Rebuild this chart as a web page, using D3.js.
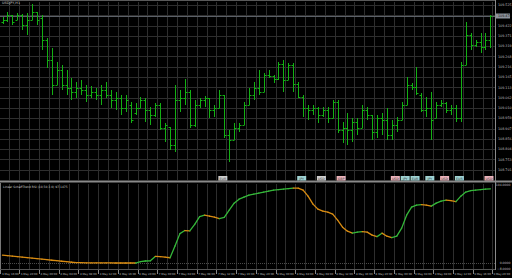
<!DOCTYPE html>
<html>
<head>
<meta charset="utf-8">
<script src="https://cdn.jsdelivr.net/npm/d3@7"></script>
<style>
  html, body { margin: 0; padding: 0; background: #000; }
  svg { display: block; }
  text { font-family: "DejaVu Sans", sans-serif; }
</style>
</head>
<body>
<svg width="512" height="278"></svg>
<script>
var symbolTitle = "USDJPY,H1";
var indicatorTitle = "Linear SchaffTrend RSI (10,50,3.0) 97.1475";

var opens = [109.440,109.450,109.475,109.450,109.475,109.425,109.450,109.490,109.460,109.350,
  109.250,109.125,109.200,109.125,109.110,109.090,109.110,109.100,109.075,109.090,
  109.075,109.100,109.075,109.050,109.060,109.010,109.025,108.985,109.010,109.050,
  109.000,108.975,109.025,108.910,108.915,108.825,109.050,109.060,109.090,108.925,
  109.025,109.050,109.060,109.000,109.010,109.075,108.875,108.850,108.910,108.925,
  109.025,109.075,109.110,109.090,109.175,109.170,109.155,109.230,109.150,109.225,
  109.130,109.065,109.010,109.000,109.010,108.975,109.000,108.960,109.040,108.900,
  108.910,108.900,108.940,108.910,109.000,108.975,108.890,108.960,108.950,108.875,
  108.925,108.950,109.025,109.125,109.115,109.075,109.000,109.010,108.960,109.025,
  109.035,109.000,109.010,108.960,109.225,109.375,109.325,109.340,109.315,109.350];
var highs = [109.465,109.490,109.475,109.485,109.480,109.485,109.530,109.490,109.475,109.360,
  109.310,109.240,109.225,109.200,109.160,109.140,109.150,109.125,109.120,109.110,
  109.125,109.140,109.100,109.090,109.075,109.075,109.040,109.035,109.065,109.060,
  109.015,109.035,109.035,108.935,108.915,109.125,109.100,109.155,109.100,109.050,
  109.060,109.070,109.060,109.025,109.100,109.075,108.900,108.935,108.935,109.040,
  109.110,109.140,109.200,109.185,109.200,109.175,109.240,109.250,109.235,109.235,
  109.140,109.075,109.025,109.025,109.015,109.015,109.015,109.050,109.050,108.940,
  108.985,108.960,108.960,109.025,109.015,108.975,108.975,108.985,109.010,108.950,
  108.965,109.040,109.165,109.135,109.215,109.085,109.065,109.090,109.040,109.050,
  109.040,109.025,109.025,109.240,109.440,109.385,109.350,109.385,109.385,109.475];
var lows = [109.430,109.440,109.425,109.450,109.400,109.375,109.450,109.425,109.300,109.210,
  109.075,109.125,109.100,109.075,109.050,109.060,109.075,109.040,109.060,109.050,
  109.025,109.060,109.010,109.000,108.975,108.990,108.935,108.975,109.010,108.940,
  108.925,108.965,108.900,108.840,108.800,108.790,108.990,109.025,108.910,108.915,
  109.010,109.015,108.960,108.965,109.010,108.860,108.740,108.850,108.890,108.925,
  109.025,109.050,109.075,109.090,109.160,109.135,109.150,109.090,109.150,109.090,
  109.060,108.965,108.950,108.975,108.935,108.965,108.935,108.960,108.885,108.835,
  108.825,108.840,108.875,108.910,108.950,108.850,108.860,108.875,108.850,108.850,
  108.890,108.950,109.025,109.100,109.075,108.990,108.965,108.850,108.960,109.015,
  108.985,108.975,108.940,108.940,109.225,109.300,109.315,109.285,109.300,109.310];
var closes = [109.450,109.475,109.440,109.475,109.425,109.450,109.490,109.450,109.350,109.250,
  109.125,109.200,109.125,109.110,109.090,109.110,109.100,109.075,109.090,109.075,
  109.100,109.075,109.050,109.060,109.010,109.050,108.950,109.010,109.050,109.000,
  108.975,109.025,108.910,108.925,108.825,109.050,109.060,109.090,108.925,109.025,
  109.050,109.060,109.000,109.010,109.075,108.875,108.850,108.910,108.925,109.025,
  109.075,109.110,109.090,109.175,109.170,109.155,109.230,109.150,109.225,109.130,
  109.065,109.010,109.000,109.010,108.975,109.000,108.960,109.040,108.900,108.910,
  108.900,108.940,108.910,109.000,108.975,108.890,108.960,108.950,108.875,108.925,
  108.950,109.025,109.125,109.115,109.085,109.000,109.010,108.950,109.025,109.035,
  109.000,109.010,108.960,109.225,109.375,109.325,109.340,109.315,109.350,109.470];

var stcValues = [10.1,9.5,8.8,8.2,7.5,6.9,6.2,5.6,4.9,4.3,
  3.6,3.0,2.3,1.7,1.0,0.6,0.4,0.3,0.2,0.2,
  0.1,0.1,0.1,0.0,0.0,0.0,0.0,0.0,1.8,2.6,
  2.8,8.5,8.2,7.5,6.8,22.0,38.0,42.0,41.5,50.0,
  60.0,62.0,60.5,59.3,57.5,59.0,68.4,77.4,82.6,85.2,
  87.8,89.1,90.4,91.7,93.0,94.3,94.9,95.6,96.2,96.9,
  96.8,94.3,86.5,76.2,69.7,67.1,65.8,63.2,55.4,46.4,
  41.2,38.6,39.9,40.5,39.9,36.0,34.1,38.6,34.7,32.8,
  34.7,45.1,61.9,72.3,74.9,75.5,74.9,73.6,77.5,80.0,
  81.3,80.7,79.4,86.5,91.7,93.6,94.3,94.9,95.6,96.0];

var timeLabels = ["3 May 16:00","3 May 20:00","4 May 00:00","4 May 04:00","4 May 08:00","4 May 12:00",
  "4 May 16:00","4 May 20:00","7 May 00:00","7 May 04:00","7 May 08:00","7 May 12:00","7 May 16:00",
  "7 May 20:00","8 May 00:00","8 May 04:00","8 May 08:00","8 May 12:00","8 May 16:00","8 May 20:00",
  "9 May 00:00","9 May 04:00","9 May 08:00","9 May 12:00","9 May 16:00","9 May 20:00"];

var priceTicks = [109.525,109.474,109.422,109.371,109.319,109.268,109.216,109.165,109.113,
  109.062,109.010,108.959,108.907,108.856,108.804,108.753,108.701];
var lastPrice = 109.470;
var indicatorTicks = [104, 0, -8];

// news markers along the bottom of the price window
var eventBars = [44, 60, 64, 68, 79, 81, 83, 86, 89, 92, 98];
var eventKinds = ["grey","teal","grey","pink","pink","teal","teal","teal","pink","teal","pink"];
var eventTexts = ["EUR","JPY","USD","GBP","USD","JPY","EUR","JPY","USD","EUR","USD"];

var svg = d3.select("svg");
var W = 512, H = 278, axisX = 495.5;

svg.append("rect").attr("width", W).attr("height", H).attr("fill", "#000");

var x = d3.scaleLinear().domain([0, 99]).range([2.5, 490.4]);
var yPrice = d3.scaleLinear().domain([108.700, 109.525]).range([170, 5]);
var yInd = d3.scaleLinear().domain([-8, 104]).range([269.2, 182.6]);
var snap = function(v) { return Math.round(v) + 0.5; };

// grid
var grid = svg.append("g").attr("stroke", "#2e2e2e").attr("stroke-width", 1);
var gridIdx = d3.range(0, 50).map(function(k) { return 2 * k + 1; });
grid.selectAll(".vg").data(gridIdx).enter().append("path")
  .attr("d", function(i) { var gx = snap(x(i) + 2); return "M" + gx + ",2V180M" + gx + ",184V269"; });
grid.selectAll(".hg").data(priceTicks).enter().append("line")
  .attr("x1", 0).attr("x2", axisX).attr("y1", function(d) { return snap(yPrice(d)); })
  .attr("y2", function(d) { return snap(yPrice(d)); });

svg.append("line").attr("x1", 0).attr("x2", axisX)
  .attr("y1", snap(yInd(0))).attr("y2", snap(yInd(0)))
  .attr("stroke", "#4a4a4a").attr("stroke-dasharray", "1,1");

// frame lines
svg.append("line").attr("x1", 0).attr("x2", axisX).attr("y1", 0.5).attr("y2", 0.5).attr("stroke", "#5a5a5a");
svg.append("line").attr("x1", 0).attr("x2", axisX)
  .attr("y1", snap(yPrice(lastPrice))).attr("y2", snap(yPrice(lastPrice)))
  .attr("stroke", "#5c6168");
svg.append("rect").attr("x", 0).attr("y", 180.5).attr("width", W).attr("height", 2).attr("fill", "#8a8a8a");
svg.append("line").attr("x1", 0.5).attr("x2", 0.5).attr("y1", 183).attr("y2", 269).attr("stroke", "#777");
svg.append("line").attr("x1", 0).attr("x2", axisX).attr("y1", 269.5).attr("y2", 269.5).attr("stroke", "#555");
svg.append("line").attr("x1", axisX).attr("x2", axisX).attr("y1", 0).attr("y2", 270).attr("stroke", "#8a8a8a");

// OHLC bars
svg.append("g").selectAll("path").data(d3.range(closes.length)).enter().append("path")
  .attr("fill", "none").attr("stroke", "#13b013").attr("stroke-width", 1)
  .attr("d", function(i) {
    var cx = snap(x(i));
    return "M" + cx + "," + yPrice(highs[i]) + "V" + yPrice(lows[i]) +
      "M" + (cx - 2) + "," + snap(yPrice(opens[i])) + "H" + cx +
      "M" + cx + "," + snap(yPrice(closes[i])) + "H" + (cx + 2);
  });

// news markers
var kindFill = { grey: "#d0d0d0", teal: "#9fd3d3", pink: "#ecb4bc" };
var ev = svg.append("g").selectAll("g").data(eventBars).enter().append("g");
ev.append("rect")
  .attr("x", function(d) { return x(d) - 1; }).attr("y", 176)
  .attr("width", 9).attr("height", 4.5)
  .attr("fill", function(d, i) { return kindFill[eventKinds[i]]; });
ev.append("text")
  .attr("x", function(d) { return x(d) + 3.5; }).attr("y", 179.5)
  .attr("text-anchor", "middle").attr("font-size", "3.2px").attr("fill", "#333")
  .text(function(d, i) { return eventTexts[i]; });

// Schaff trend line, coloured by slope
var line = d3.line().x(function(d) { return x(d[0]); }).y(function(d) { return yInd(d[1]); });
svg.append("g").selectAll("path").data(d3.range(stcValues.length - 1)).enter().append("path")
  .attr("fill", "none").attr("stroke-width", 1.3).attr("stroke-linecap", "round")
  .attr("stroke", function(i) { return stcValues[i + 1] > stcValues[i] ? "#35b83a" : "#d98c12"; })
  .attr("d", function(i) { return line([[i, stcValues[i]], [i + 1, stcValues[i + 1]]]); });

// price axis
var fmt3 = d3.format(".3f");
svg.append("g").selectAll("text")
  .data(priceTicks.filter(function(d) { return Math.abs(yPrice(d) - yPrice(lastPrice)) > 4; }))
  .enter().append("text")
  .attr("x", 498).attr("y", function(d) { return yPrice(d) + 1.2; })
  .attr("font-size", "3.3px").attr("fill", "#bdbdbd").text(fmt3);
svg.append("rect").attr("x", 496).attr("y", yPrice(lastPrice) - 2.5)
  .attr("width", 14).attr("height", 5).attr("fill", "#8c939c");
svg.append("text").attr("x", 498).attr("y", yPrice(lastPrice) + 1.2)
  .attr("font-size", "3.3px").attr("fill", "#111").text(fmt3(lastPrice));

// indicator axis (top value sits just under the window separator)
svg.append("g").selectAll("text").data(indicatorTicks).enter().append("text")
  .attr("x", 510.5).attr("text-anchor", "end")
  .attr("y", function(d) { return Math.max(yInd(d) + 1.2, 186); })
  .attr("font-size", "3.1px").attr("fill", "#bdbdbd").text(d3.format(".4f"));

// time axis
var tg = svg.append("g").selectAll("g").data(timeLabels).enter().append("g");
tg.append("line")
  .attr("x1", function(d, k) { return snap(x(4 * k - 1) + 2); })
  .attr("x2", function(d, k) { return snap(x(4 * k - 1) + 2); })
  .attr("y1", 270).attr("y2", 274).attr("stroke", "#888");
tg.append("text")
  .attr("x", function(d, k) { return Math.min(Math.max(2, x(4 * k - 1) + 3.5), W - 18.6); }).attr("y", 275)
  .attr("font-size", "2.7px").attr("fill", "#bdbdbd").text(function(d) { return d; });

// titles
svg.append("text").attr("x", 2).attr("y", 4).attr("font-size", "3.4px").attr("fill", "#c8c8c8").text(symbolTitle);
svg.append("text").attr("x", 3).attr("y", 187.5).attr("font-size", "3px").attr("fill", "#c8c8c8").text(indicatorTitle);
</script>
</body>
</html>
